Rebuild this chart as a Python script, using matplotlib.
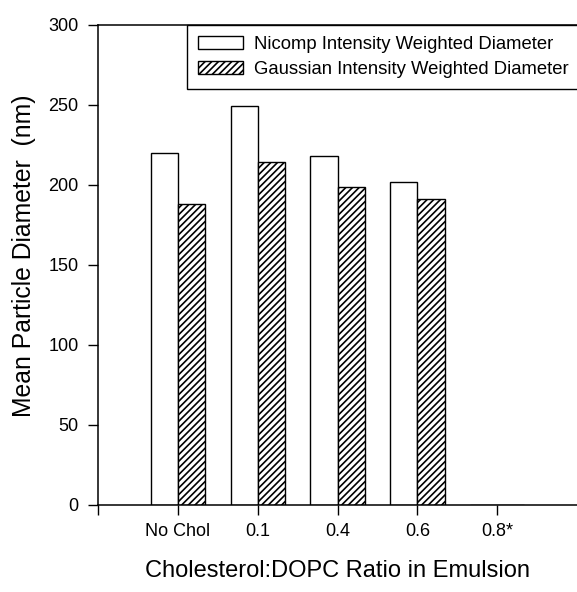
import numpy as np
import matplotlib
matplotlib.use('Agg')
import matplotlib.pyplot as plt

plt.rcParams['font.family'] = ['Liberation Sans', 'DejaVu Sans']
plt.rcParams['hatch.linewidth'] = 1.2

categories = ['No Chol', '0.1', '0.4', '0.6', '0.8*']
nicomp = [220, 249, 218, 202, 0]
gaussian = [188, 214, 199, 191, 0]

x = np.arange(len(categories))
width = 0.34

fig = plt.figure(figsize=(5.77, 5.92), dpi=100)
ax = fig.add_axes([0.170, 0.147, 0.830, 0.811])

ax.bar(x, nicomp, width, align='edge', color='white', edgecolor='black',
       linewidth=1.0, label='Nicomp Intensity Weighted Diameter')
ax.bar(x, gaussian, width, align='edge', color='white', edgecolor='black',
       linewidth=1.0, hatch='/////', label='Gaussian Intensity Weighted Diameter')
# white bars sit left of the tick, hatched ones right of it
for p in ax.patches[:len(categories)]:
    p.set_x(p.get_x() - width)

ax.set_xlim(-1, 5)
ax.set_ylim(0, 300)
ax.set_xticks(np.arange(-1, 5))
ax.set_xticklabels([''] + categories)
ax.set_yticks(np.arange(0, 301, 50))

ax.spines['right'].set_visible(False)
for s in ['left', 'bottom', 'top']:
    ax.spines[s].set_linewidth(1.1)
ax.tick_params(axis='x', direction='out', length=7, width=1.0, pad=6, labelsize=13)
ax.tick_params(axis='y', direction='out', length=7, width=1.0, pad=7, labelsize=13)

ax.set_ylabel('Mean Particle Diameter  (nm)', fontsize=17.8)
ax.yaxis.set_label_coords(-0.13, 0.52)
ax.set_xlabel('Cholesterol:DOPC Ratio in Emulsion', fontsize=17)
ax.xaxis.set_label_coords(0.5, -0.115)

leg = ax.legend(loc='upper right', bbox_to_anchor=(1.005, 1.0), borderaxespad=0,
                fontsize=13.3, fancybox=False, edgecolor='black', framealpha=1,
                handlelength=2.4, handleheight=0.75, handletextpad=0.6,
                borderpad=0.6, labelspacing=0.4)
leg.get_frame().set_linewidth(1.0)

plt.savefig('out.png', dpi=100)
